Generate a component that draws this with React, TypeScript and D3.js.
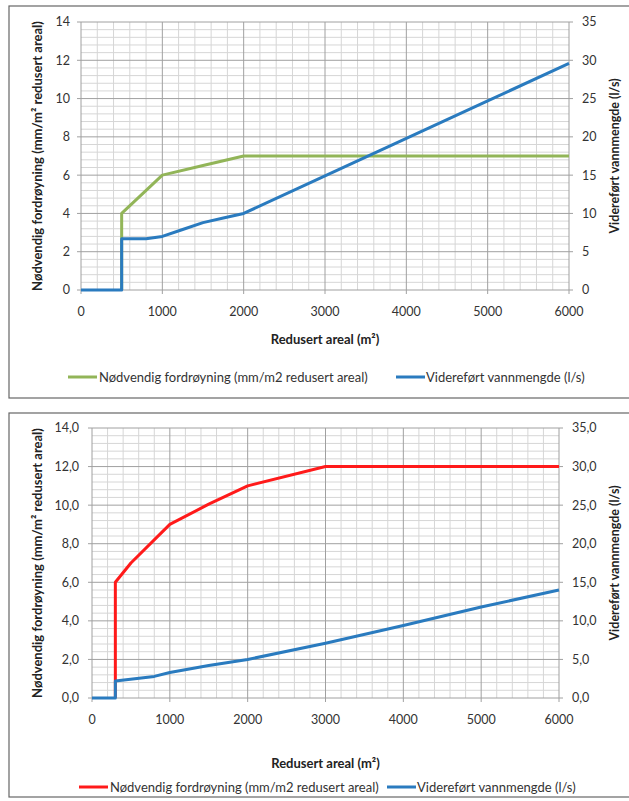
import React from "react";
import * as d3 from "d3";

// ---------- Data ----------
const xTicks = [0, 1000, 2000, 3000, 4000, 5000, 6000];
const leftTicks = [0, 2, 4, 6, 8, 10, 12, 14];
const rightTicks = [0, 5, 10, 15, 20, 25, 30, 35];

// Chart 1
const c1FordX = [500, 500, 1000, 1500, 2000, 6000];
const c1FordY = [0, 4, 6, 6.5, 7, 7];
const c1VannX = [0, 500, 500, 800, 1000, 1250, 1500, 1750, 2000, 3000, 4000, 5000, 6000];
const c1VannY = [0, 0, 6.7, 6.7, 7.0, 7.9, 8.8, 9.4, 10, 14.9, 19.8, 24.7, 29.6];

// Chart 2
const c2FordX = [300, 300, 500, 1000, 1500, 2000, 3000, 6000];
const c2FordY = [0, 6, 7, 9, 10.05, 11, 12, 12];
const c2VannX = [0, 300, 300, 800, 1000, 1500, 2000, 3000, 4000, 5000, 6000];
const c2VannY = [0, 0, 2.2, 2.8, 3.3, 4.2, 5.0, 7.1, 9.4, 11.8, 14.0];

const leftTitle = "Nødvendig fordrøyning (mm/m² redusert areal)";
const rightTitle = "Videreført vannmengde (l/s)";
const xTitle = "Redusert areal (m²)";
const legendFord = "Nødvendig fordrøyning (mm/m2 redusert areal)";
const legendVann = "Videreført vannmengde (l/s)";

const FONT = "Lato, 'Noto Sans', sans-serif";

type ChartProps = {
  frame: [number, number, number, number];
  px: [number, number];
  py: [number, number];
  fordX: number[];
  fordY: number[];
  vannX: number[];
  vannY: number[];
  fordColor: string;
  decimals: boolean;
  leftLabelX: number;
  rightLabelX: number;
  xLabelY: number;
  xTitleY: number;
  leftTitleX: number;
  rightTitleX: number;
  legendY: number;
  legend1: [number, number];
  legend2: [number, number];
};

function Chart(p: ChartProps) {
  const x = d3.scaleLinear().domain([0, 6000]).range(p.px);
  const yL = d3.scaleLinear().domain([0, 14]).range(p.py);
  const yR = d3.scaleLinear().domain([0, 35]).range(p.py);
  const fmt = (v: number) => (p.decimals ? v.toFixed(1).replace(".", ",") : String(v));

  const minorX = d3.range(0, 6001, 200).filter((v) => v % 1000 !== 0);
  const minorY = d3.range(0, 14.01, 0.4).map((v) => +v.toFixed(2)).filter((v) => Math.abs(v / 2 - Math.round(v / 2)) > 1e-6);

  const lineL = d3
    .line<number>()
    .x((_, i) => x(p.fordX[i]))
    .y((v) => yL(v));
  const lineR = d3
    .line<number>()
    .x((_, i) => x(p.vannX[i]))
    .y((v) => yR(v));

  const [fx, fy, fw, fh] = p.frame;
  const midY = (p.py[0] + p.py[1]) / 2;
  const midX = (p.px[0] + p.px[1]) / 2;
  const blue = "#2a7bbf";

  return (
    <g>
      <rect x={fx} y={fy} width={fw} height={fh} fill="#fff" stroke="#666" strokeWidth={1.2} />
      {/* minor grid */}
      {minorX.map((v) => (
        <line key={"mx" + v} x1={x(v)} x2={x(v)} y1={p.py[0]} y2={p.py[1]} stroke="#d6d6d6" strokeWidth={1} />
      ))}
      {minorY.map((v) => (
        <line key={"my" + v} x1={p.px[0]} x2={p.px[1]} y1={yL(v)} y2={yL(v)} stroke="#d6d6d6" strokeWidth={1} />
      ))}
      {/* major grid */}
      {xTicks.map((v) => (
        <line key={"Mx" + v} x1={x(v)} x2={x(v)} y1={p.py[0] + 4} y2={p.py[1]} stroke="#a0a0a0" strokeWidth={1} />
      ))}
      {leftTicks.map((v) => (
        <line key={"My" + v} x1={p.px[0] - 4} x2={p.px[1] + 4} y1={yL(v)} y2={yL(v)} stroke="#a0a0a0" strokeWidth={1} />
      ))}
      {/* series */}
      <path d={lineL(p.fordY) || ""} fill="none" stroke={p.fordColor} strokeWidth={3} strokeLinejoin="round" />
      <path d={lineR(p.vannY) || ""} fill="none" stroke={blue} strokeWidth={3} strokeLinejoin="round" />
      {/* tick labels */}
      {leftTicks.map((v) => (
        <text key={"lt" + v} x={p.leftLabelX} y={yL(v)} dy="0.35em" textAnchor="end" fontSize={12.5} fill="#333">
          {fmt(v)}
        </text>
      ))}
      {rightTicks.map((v) => (
        <text key={"rt" + v} x={p.rightLabelX} y={yR(v)} dy="0.35em" textAnchor="start" fontSize={12.5} fill="#333">
          {fmt(v)}
        </text>
      ))}
      {xTicks.map((v) => (
        <text key={"xt" + v} x={x(v)} y={p.xLabelY} dy="0.35em" textAnchor="middle" fontSize={12.5} fill="#333">
          {v}
        </text>
      ))}
      {/* titles */}
      <text x={midX} y={p.xTitleY} dy="0.35em" textAnchor="middle" fontSize={13} fontWeight="bold" fill="#222">
        {xTitle}
      </text>
      <text
        transform={`translate(${p.leftTitleX},${midY}) rotate(-90)`}
        dy="0.35em"
        textAnchor="middle"
        fontSize={13}
        fontWeight="bold"
        fill="#222"
      >
        {leftTitle}
      </text>
      <text
        transform={`translate(${p.rightTitleX},${midY}) rotate(-90)`}
        dy="0.35em"
        textAnchor="middle"
        fontSize={12.5}
        fontWeight="bold"
        fill="#222"
      >
        {rightTitle}
      </text>
      {/* legend */}
      <line x1={p.legend1[0]} x2={p.legend1[0] + 29} y1={p.legendY} y2={p.legendY} stroke={p.fordColor} strokeWidth={3} />
      <text x={p.legend1[1]} y={p.legendY} dy="0.35em" fontSize={13} fill="#333">
        {legendFord}
      </text>
      <line x1={p.legend2[0]} x2={p.legend2[0] + 29} y1={p.legendY} y2={p.legendY} stroke={blue} strokeWidth={3} />
      <text x={p.legend2[1]} y={p.legendY} dy="0.35em" fontSize={13} fill="#333">
        {legendVann}
      </text>
    </g>
  );
}

export default function App() {
  return (
    <svg
      width={629}
      height={801}
      style={{ position: "absolute", left: 0, top: 0, fontFamily: FONT, background: "#fff" }}
    >
      <rect x={0} y={0} width={629} height={801} fill="#fff" />
      <Chart
        frame={[9, 6, 625, 392]}
        px={[81, 569]}
        py={[290, 22]}
        fordX={c1FordX}
        fordY={c1FordY}
        vannX={c1VannX}
        vannY={c1VannY}
        fordColor="#92b558"
        decimals={false}
        leftLabelX={70}
        rightLabelX={582}
        xLabelY={312}
        xTitleY={339}
        leftTitleX={37}
        rightTitleX={615}
        legendY={377}
        legend1={[68, 99]}
        legend2={[396, 426]}
      />
      <Chart
        frame={[9, 413, 625, 384]}
        px={[92, 559]}
        py={[698, 428]}
        fordX={c2FordX}
        fordY={c2FordY}
        vannX={c2VannX}
        vannY={c2VannY}
        fordColor="#ff1a1a"
        decimals={true}
        leftLabelX={79}
        rightLabelX={572}
        xLabelY={720}
        xTitleY={763}
        leftTitleX={37}
        rightTitleX={615}
        legendY={787}
        legend1={[79, 110]}
        legend2={[387, 417]}
      />
    </svg>
  );
}
